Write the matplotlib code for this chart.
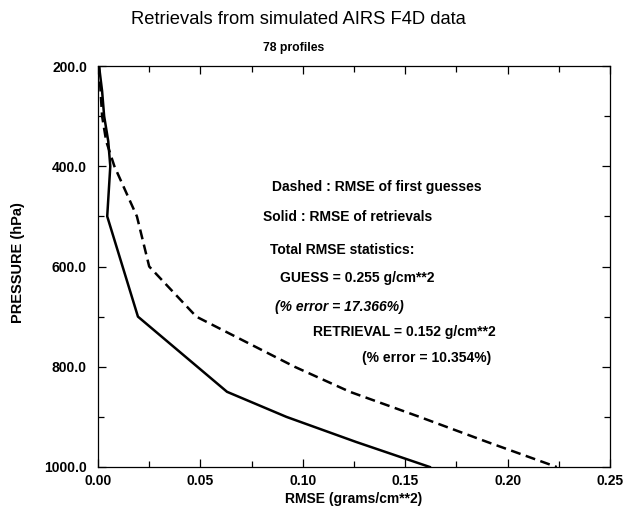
import matplotlib
matplotlib.use("Agg")
import matplotlib.pyplot as plt
from matplotlib.ticker import MultipleLocator, FormatStrFormatter

plt.rcParams['font.family'] = ['Liberation Sans', 'DejaVu Sans']

# Data
retr_pressure = [200, 250, 300, 350, 400, 500, 700, 850, 900, 950, 1000]
retr_rmse = [0.0005, 0.002, 0.003, 0.005, 0.006, 0.0045, 0.0195, 0.063, 0.092, 0.126, 0.162]
guess_pressure = [200, 300, 350, 400, 500, 600, 700, 800, 850, 900, 950, 1000]
guess_rmse = [0.0005, 0.002, 0.004, 0.008, 0.019, 0.025, 0.048, 0.096, 0.123, 0.157, 0.190, 0.224]

x_ticks = [0.00, 0.05, 0.10, 0.15, 0.20, 0.25]
y_ticks = [200.0, 400.0, 600.0, 800.0, 1000.0]

notes = [
    "Dashed : RMSE of first guesses",
    "Solid : RMSE of retrievals",
    "Total RMSE statistics:",
    "GUESS = 0.255 g/cm**2",
    "(% error = 17.366%)",
    "RETRIEVAL = 0.152 g/cm**2",
    "(% error = 10.354%)",
]

W, H = 629, 513
fig = plt.figure(figsize=(W/100, H/100), dpi=100)
ax = fig.add_axes([98/W, 1-467/H, (610-98)/W, (467-66)/H])

ax.plot(guess_rmse, guess_pressure, color='black', lw=1.8, ls=(0, (4, 2.2)))
ax.plot(retr_rmse, retr_pressure, color='black', lw=1.8)

ax.set_xlim(0, 0.25)
ax.set_ylim(1000, 200)
ax.set_xticks(x_ticks)
ax.set_yticks(y_ticks)
ax.xaxis.set_major_formatter(FormatStrFormatter('%.2f'))
ax.yaxis.set_major_formatter(FormatStrFormatter('%.1f'))
ax.xaxis.set_minor_locator(MultipleLocator(0.025))
ax.yaxis.set_minor_locator(MultipleLocator(100))
ax.tick_params(which='both', direction='in', top=True, right=True, width=0.9)
ax.tick_params(which='major', length=6, labelsize=10)
ax.tick_params(axis='x', which='major', pad=5)
ax.tick_params(axis='y', which='major', pad=8)
ax.tick_params(which='minor', length=4)
for lab in ax.get_xticklabels() + ax.get_yticklabels():
    lab.set_fontweight('bold')
for s in ax.spines.values():
    s.set_linewidth(0.9)

fig.text(354/W, 1-499/H, "RMSE (grams/cm**2)", ha='center', va='center', fontsize=10, fontweight='bold')
fig.text(18/W, 1-263/H, "PRESSURE (hPa)", ha='center', va='center', rotation=90, fontsize=10.5, fontweight='bold')

fig.text(298/W, 1-20/H, "Retrievals from simulated AIRS F4D data", ha='center', va='center', fontsize=13.2)
fig.text(294/W, 1-48/H, "78 profiles", ha='center', va='center', fontsize=8.8, fontweight='bold')

# annotation positions in pixels (left, center-y)
note_pos = [(272, 187), (263, 217), (270, 250), (280, 278), (275, 307), (313, 332), (362, 358)]
for i, (t, (px, py)) in enumerate(zip(notes, note_pos)):
    style = 'italic' if i == 4 else 'normal'
    fig.text(px/W, 1-py/H, t, ha='left', va='center', fontsize=10, fontweight='bold', style=style)

fig.savefig("out.png", dpi=100)
